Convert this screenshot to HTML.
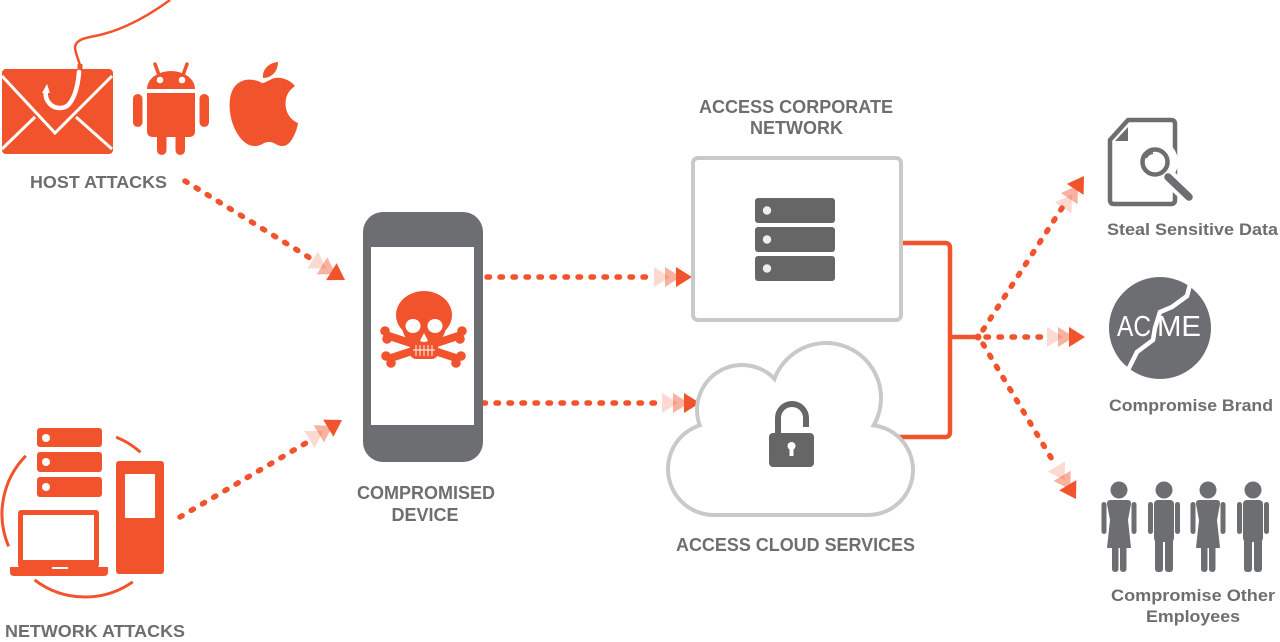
<!DOCTYPE html>
<html><head><meta charset="utf-8"><style>
html,body{margin:0;padding:0;background:#fff;}
svg{display:block;}
text{font-family:"Liberation Sans",Arial,sans-serif;font-weight:bold;fill:#6d6e71;}
</style></head><body>
<svg width="1280" height="642" viewBox="0 0 1280 642" xmlns="http://www.w3.org/2000/svg">
<defs>
  <g id="tri3">
    <polygon points="-22,0 -38,-10 -38,10" fill="#f1542c" opacity="0.22"/>
    <polygon points="-11,0 -27,-10 -27,10" fill="#f1542c" opacity="0.45"/>
    <polygon points="0,0 -16,-10 -16,10" fill="#f1542c"/>
  </g>
</defs>
<rect width="1280" height="642" fill="#fff"/>

<!-- ===== HOST ATTACKS icons ===== -->
<path d="M80 66 C79 60 75 53 75 47 C76 40 84 38 95 36 C115 32 140 22 170 0" fill="none" stroke="#f1542c" stroke-width="2.5"/>
<rect x="2" y="69" width="111" height="85" rx="4" fill="#f1542c"/>
<polyline points="2,76 55,133 112,76" fill="none" stroke="#fff" stroke-width="3"/>
<line x1="2" y1="149" x2="35" y2="117" stroke="#fff" stroke-width="3"/>
<line x1="112" y1="149" x2="76" y2="117" stroke="#fff" stroke-width="3"/>
<path d="M80 64 L80 72" stroke="#f1542c" stroke-width="5"/>
<path d="M79 72 C78 85 75 96 70 103 C66 109 56 110 50 104 C46 100 45 96 46 91" fill="none" stroke="#fff" stroke-width="4.5" stroke-linecap="round"/>
<polygon points="42,93 47,84 50,93" fill="#fff"/>

<!-- android -->
<g fill="#f1542c">
  <path d="M147 89 A24 18 0 0 1 195 89 Z"/>
  <line x1="159" y1="75" x2="155" y2="64" stroke="#f1542c" stroke-width="3.5" stroke-linecap="round"/>
  <line x1="183" y1="75" x2="187" y2="64" stroke="#f1542c" stroke-width="3.5" stroke-linecap="round"/>
  <path d="M147 93 H195 V131 Q195 137 189 137 H153 Q147 137 147 131 Z"/>
  <rect x="133" y="94" width="9.5" height="33" rx="4.75"/>
  <rect x="199.5" y="94" width="9.5" height="33" rx="4.75"/>
  <rect x="157" y="128" width="9.5" height="27" rx="4.75"/>
  <rect x="175.5" y="128" width="9.5" height="27" rx="4.75"/>
</g>
<circle cx="160" cy="80" r="3.3" fill="#fff"/>
<circle cx="182" cy="80" r="3.3" fill="#fff"/>

<!-- apple -->
<path fill="#f1542c" d="M262 83 C252 77 233 77 230 99 C227 122 241 147 255 146 C262 146 263 142 269 142 C275 142 276 146 283 146 C291 146 297 131 298 123 C289 119 284 110 286 99 C287 93 291 89 295 86 C290 80 282 77 275 78 C270 79 266 83 262 83 Z"/>
<path fill="#f1542c" d="M263 78 C262 70 268 63 278 62 C278 71 272 78 263 78 Z"/>

<text x="30" y="188" font-size="17.5" textLength="137" lengthAdjust="spacingAndGlyphs">HOST ATTACKS</text>

<!-- ===== NETWORK ATTACKS icons ===== -->
<g fill="none" stroke="#f1542c" stroke-width="3">
  <path d="M25.8 455.8 A83 83 0 0 0 8.6 546.4"/>
  <path d="M34.6 579.9 A83 83 0 0 0 132.8 581.8"/>
  <path d="M116.1 437.1 A83 83 0 0 1 140.5 452.3"/>
</g>
<rect x="37" y="428" width="65" height="19" rx="3" fill="#f1542c"/>
<rect x="37" y="452" width="65" height="20" rx="3" fill="#f1542c"/>
<rect x="37" y="477" width="65" height="20" rx="3" fill="#f1542c"/>
<rect x="116" y="461" width="48" height="113" rx="3" fill="#f1542c"/>
<rect x="18" y="510" width="81" height="58" rx="3" fill="#f1542c"/>
<path d="M10 567 H108 V572 Q108 576 104 576 H14 Q10 576 10 572 Z" fill="#f1542c"/>
<circle cx="46" cy="438" r="4" fill="#fff"/>
<circle cx="46" cy="462" r="4" fill="#fff"/>
<circle cx="46" cy="487" r="4" fill="#fff"/>
<rect x="125" y="474" width="30" height="44" fill="#fff"/>
<rect x="23" y="515" width="71" height="45" fill="#fff"/>
<rect x="52" y="567" width="16" height="2" fill="#fff"/>

<text x="5" y="637" font-size="17.5" textLength="180" lengthAdjust="spacingAndGlyphs">NETWORK ATTACKS</text>

<!-- ===== dotted arrows left ===== -->
<g stroke="#f1542c" stroke-width="5.5" stroke-linecap="round" stroke-dasharray="2.5 10.5" fill="none">
  <line x1="185" y1="181" x2="310" y2="258"/>
  <line x1="180" y1="517" x2="306" y2="443"/>
  <line x1="487" y1="277" x2="650" y2="277"/>
  <line x1="483" y1="403" x2="658" y2="403"/>
</g>
<use href="#tri3" transform="translate(345,280) rotate(31.7)"/>
<use href="#tri3" transform="translate(342,420) rotate(-30.9)"/>
<use href="#tri3" transform="translate(692,277)"/>
<use href="#tri3" transform="translate(700,403)"/>

<!-- ===== phone ===== -->
<rect x="363" y="212" width="120" height="250" rx="20" fill="#6d6e71"/>
<rect x="371" y="247" width="103" height="178" fill="#fff"/>
<!-- skull -->
<g stroke="#f1542c" stroke-width="8" stroke-linecap="round">
  <line x1="389" y1="336" x2="456" y2="358"/>
  <line x1="458" y1="336" x2="391" y2="358"/>
</g>
<g fill="#f1542c">
  <circle cx="385" cy="331" r="4.8"/><circle cx="387" cy="339" r="4.8"/>
  <circle cx="462" cy="331" r="4.8"/><circle cx="460" cy="339" r="4.8"/>
  <circle cx="386" cy="356" r="4.8"/><circle cx="391" cy="363" r="4.8"/>
  <circle cx="461" cy="356" r="4.8"/><circle cx="456" cy="363" r="4.8"/>
  <ellipse cx="424" cy="315" rx="28" ry="24"/>
  <path d="M400 320 Q403 338 410 342 L410 352 Q410 359 417 359 H431 Q438 359 438 352 L438 342 Q445 338 448 320 Z"/>
</g>
<ellipse cx="413" cy="326" rx="7.5" ry="7" fill="#fff"/>
<ellipse cx="435" cy="326" rx="7.5" ry="7" fill="#fff"/>
<path d="M424 333 L420 341 Q424 343 428 341 Z" fill="#fff"/>
<g stroke="#fff" stroke-width="0.9">
  <line x1="413" y1="350" x2="435" y2="350"/>
  <line x1="416" y1="345" x2="416" y2="356"/>
  <line x1="420" y1="345" x2="420" y2="356"/>
  <line x1="424" y1="345" x2="424" y2="356"/>
  <line x1="428" y1="345" x2="428" y2="356"/>
  <line x1="432" y1="345" x2="432" y2="356"/>
</g>
<text x="357" y="499" font-size="18" textLength="138" lengthAdjust="spacingAndGlyphs">COMPROMISED</text>
<text x="425" y="521" font-size="18" text-anchor="middle">DEVICE</text>

<!-- ===== corporate network ===== -->
<text x="699" y="113" font-size="18" textLength="194" lengthAdjust="spacingAndGlyphs">ACCESS CORPORATE</text>
<text x="750" y="134" font-size="18" textLength="93" lengthAdjust="spacingAndGlyphs">NETWORK</text>
<rect x="693" y="158" width="208" height="162" rx="5" fill="#fff" stroke="#c9c9c9" stroke-width="4"/>
<rect x="755" y="198" width="80" height="25" rx="3" fill="#666"/>
<rect x="755" y="227" width="80" height="25" rx="3" fill="#666"/>
<rect x="755" y="256" width="80" height="25" rx="3" fill="#666"/>
<circle cx="767" cy="210.5" r="4.2" fill="#eee"/>
<circle cx="767" cy="239.5" r="4.2" fill="#eee"/>
<circle cx="767" cy="268.5" r="4.2" fill="#eee"/>

<!-- bracket -->
<path d="M903 243 H945 Q950 243 950 248 V432 Q950 437 945 437 H890" fill="none" stroke="#f1542c" stroke-width="4.5"/>
<line x1="950" y1="337" x2="978" y2="337" stroke="#f1542c" stroke-width="4.5"/>
<circle cx="978" cy="337" r="3.5" fill="#f1542c"/>

<!-- ===== cloud ===== -->
<g fill="#c9c9c9">
  <circle cx="714" cy="469" r="48"/>
  <circle cx="742" cy="410" r="47"/>
  <circle cx="826" cy="398" r="57"/>
  <circle cx="868" cy="470" r="47"/>
  <rect x="714" y="420" width="154" height="97"/>
</g>
<g fill="#fff">
  <circle cx="714" cy="469" r="44"/>
  <circle cx="742" cy="410" r="43"/>
  <circle cx="826" cy="398" r="53"/>
  <circle cx="868" cy="470" r="43"/>
  <rect x="714" y="420" width="154" height="93"/>
</g>
<path d="M778 434 V418 A14 14 0 0 1 806 418 V427" fill="none" stroke="#666" stroke-width="6"/>
<rect x="769" y="433" width="45" height="34" rx="4" fill="#666"/>
<circle cx="791.5" cy="446" r="4" fill="#fff"/>
<rect x="789.5" y="447" width="4" height="9" fill="#fff"/>
<text x="676" y="551" font-size="18" textLength="239" lengthAdjust="spacingAndGlyphs">ACCESS CLOUD SERVICES</text>

<!-- ===== right dotted arrows ===== -->
<g stroke="#f1542c" stroke-width="5.5" stroke-linecap="round" stroke-dasharray="2.5 10.5" fill="none">
  <line x1="983" y1="330" x2="1062" y2="208"/>
  <line x1="986" y1="337" x2="1046" y2="337"/>
  <line x1="983" y1="344" x2="1056" y2="466"/>
</g>
<use href="#tri3" transform="translate(1084,176) rotate(-56.8)"/>
<use href="#tri3" transform="translate(1085,337)"/>
<use href="#tri3" transform="translate(1076,499) rotate(59)"/>

<!-- ===== steal sensitive data ===== -->
<path d="M1128 120 H1171 Q1175 120 1175 124 V200 Q1175 204 1171 204 H1114 Q1110 204 1110 200 V140 Z" fill="none" stroke="#6d6e71" stroke-width="4.5" stroke-linejoin="round"/>
<polygon points="1115,141 1128,141 1128,127" fill="#6d6e71"/>
<circle cx="1155" cy="162" r="23" fill="#fff"/>
<line x1="1167" y1="176" x2="1191" y2="198" stroke="#fff" stroke-width="16" stroke-linecap="round"/>
<circle cx="1155" cy="162" r="12.5" fill="none" stroke="#6d6e71" stroke-width="4.5"/>
<line x1="1168" y1="177" x2="1189" y2="197" stroke="#6d6e71" stroke-width="7.5" stroke-linecap="round"/>
<path d="M1146 158 A9 9 0 0 1 1153 153" fill="none" stroke="#6d6e71" stroke-width="2"/>
<text x="1107" y="235" font-size="17" textLength="171" lengthAdjust="spacingAndGlyphs">Steal Sensitive Data</text>

<!-- ===== ACME ===== -->
<circle cx="1160" cy="328" r="51" fill="#6d6e71"/>
<text x="1117" y="336" font-size="29" textLength="34" lengthAdjust="spacingAndGlyphs" style="fill:#fff;font-weight:normal">AC</text>
<text x="1157" y="336" font-size="29" textLength="44" lengthAdjust="spacingAndGlyphs" style="fill:#fff;font-weight:normal">ME</text>
<polyline points="1192,277 1187,296 1172,307 1160,312 1155,328 1153,340 1137,352 1127,372" fill="none" stroke="#fff" stroke-width="4.5"/>
<text x="1109" y="411" font-size="17" textLength="164" lengthAdjust="spacingAndGlyphs">Compromise Brand</text>

<!-- ===== employees ===== -->
<g fill="#6d6e71">
  <circle cx="1119" cy="490" r="8.5"/>
  <path d="M1110 500 H1128 Q1131 500 1131 504 L1128 520 L1131 548 H1107 L1110 520 L1107 504 Q1107 500 1110 500 Z"/>
  <rect x="1101.5" y="502" width="5" height="32" rx="2.5"/>
  <rect x="1131.5" y="502" width="5" height="32" rx="2.5"/>
  <rect x="1112" y="540" width="6.5" height="32" rx="3"/>
  <rect x="1120" y="540" width="6.5" height="32" rx="3"/>
  <circle cx="1164" cy="490" r="8.5"/>
  <rect x="1154" y="500" width="20" height="42" rx="4"/>
  <rect x="1148" y="502" width="5" height="32" rx="2.5"/>
  <rect x="1175" y="502" width="5" height="32" rx="2.5"/>
  <rect x="1155" y="536" width="8" height="36" rx="3"/>
  <rect x="1165" y="536" width="8" height="36" rx="3"/>
  <circle cx="1208" cy="490" r="8.5"/>
  <path d="M1199 500 H1217 Q1220 500 1220 504 L1217 520 L1220 548 H1196 L1199 520 L1196 504 Q1196 500 1199 500 Z"/>
  <rect x="1190.5" y="502" width="5" height="32" rx="2.5"/>
  <rect x="1220.5" y="502" width="5" height="32" rx="2.5"/>
  <rect x="1201" y="540" width="6.5" height="32" rx="3"/>
  <rect x="1209" y="540" width="6.5" height="32" rx="3"/>
  <circle cx="1253" cy="490" r="8.5"/>
  <rect x="1243" y="500" width="20" height="42" rx="4"/>
  <rect x="1237" y="502" width="5" height="32" rx="2.5"/>
  <rect x="1264" y="502" width="5" height="32" rx="2.5"/>
  <rect x="1244" y="536" width="8" height="36" rx="3"/>
  <rect x="1254" y="536" width="8" height="36" rx="3"/>
</g>
<text x="1111" y="601" font-size="17" textLength="164" lengthAdjust="spacingAndGlyphs">Compromise Other</text>
<text x="1146" y="622" font-size="17" textLength="94" lengthAdjust="spacingAndGlyphs">Employees</text>
</svg>
</body></html>
